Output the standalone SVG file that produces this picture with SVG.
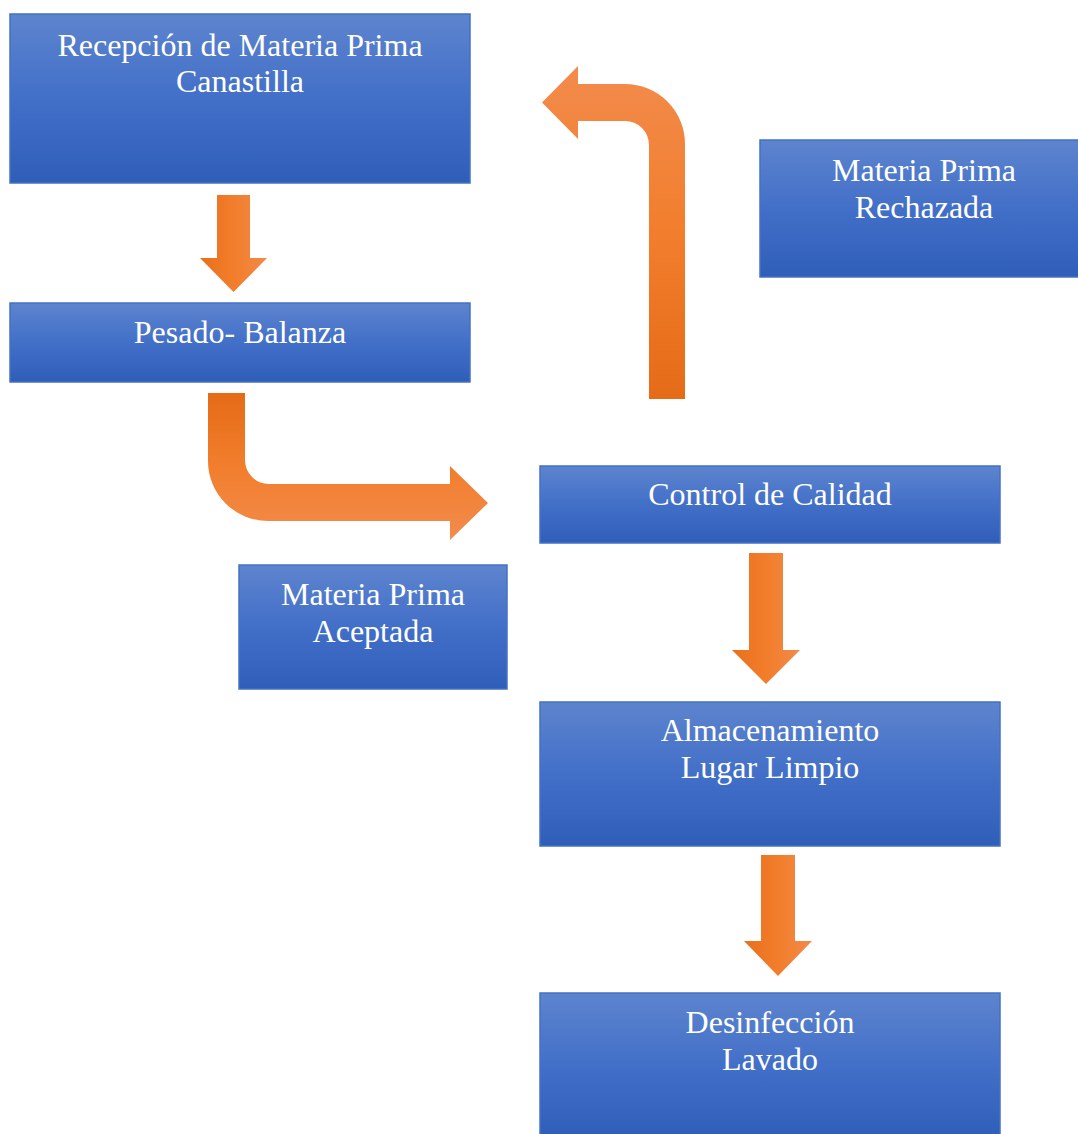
<svg xmlns="http://www.w3.org/2000/svg" width="1078" height="1134" viewBox="0 0 1078 1134">
<defs>
<linearGradient id="boxg" x1="0" y1="0" x2="0" y2="1">
<stop offset="0" stop-color="#5D84CE"/>
<stop offset="0.5" stop-color="#426FC8"/>
<stop offset="1" stop-color="#2F5EB9"/>
</linearGradient>
<linearGradient id="downg" x1="0" y1="0" x2="1" y2="0">
<stop offset="0" stop-color="#E8701D"/>
<stop offset="0.5" stop-color="#F27D2B"/>
<stop offset="1" stop-color="#F28A48"/>
</linearGradient>
<linearGradient id="bend1" gradientUnits="userSpaceOnUse" x1="0" y1="393" x2="0" y2="540">
<stop offset="0" stop-color="#E56B17"/>
<stop offset="0.5" stop-color="#F27E2D"/>
<stop offset="1" stop-color="#F28B4C"/>
</linearGradient>
<linearGradient id="bend2" gradientUnits="userSpaceOnUse" x1="0" y1="66" x2="0" y2="399">
<stop offset="0" stop-color="#F28B4C"/>
<stop offset="0.5" stop-color="#F27E2D"/>
<stop offset="1" stop-color="#E56B17"/>
</linearGradient>
</defs>
<style>
.box{fill:url(#boxg);stroke:#4472C4;stroke-width:1.5}
.t{font-family:"Liberation Serif","Times New Roman",serif;font-size:32px;fill:#FFFFFF;text-anchor:middle}
.down{fill:url(#downg)}
</style>
<rect width="1078" height="1134" fill="#FFFFFF"/>
<g id="connectors">
<path class="down" d="M217,195 H250 V258 H267 L233.5,292 L200,258 H217 Z"/>
<path fill="url(#bend1)" d="M208,393 H245 V460 A24,24 0 0 0 269,484 H450 V466 L488,503 L450,540 V521 H268 A60,60 0 0 1 208,461 Z"/>
<path fill="url(#bend2)" d="M649,399 V145 A24,24 0 0 0 625,121 H578 V139 L542,102.5 L578,66 V84 H625 A60,60 0 0 1 685,144 V399 Z"/>
<path class="down" d="M749,553 H783 V650 H800 L766,684 L732,650 H749 Z"/>
<path class="down" d="M761,855 H795 V941 H812 L778,976 L744,941 H761 Z"/>
</g>
<g id="recepcion">
<rect class="box" x="10" y="14" width="460" height="169"/>
<text class="t" x="240" y="56">Recepción de Materia Prima</text>
<text class="t" x="240" y="92">Canastilla</text>
</g>
<g id="rechazada">
<rect class="box" x="760" y="140" width="329" height="137"/>
<text class="t" x="924" y="181">Materia Prima</text>
<text class="t" x="924" y="218">Rechazada</text>
</g>
<g id="pesado">
<rect class="box" x="10" y="303" width="460" height="79"/>
<text class="t" x="240" y="343">Pesado- Balanza</text>
</g>
<g id="control">
<rect class="box" x="540" y="466" width="460" height="77"/>
<text class="t" x="770" y="505">Control de Calidad</text>
</g>
<g id="aceptada">
<rect class="box" x="239" y="565" width="268" height="124"/>
<text class="t" x="373" y="605">Materia Prima</text>
<text class="t" x="373" y="642">Aceptada</text>
</g>
<g id="almacenamiento">
<rect class="box" x="540" y="702" width="460" height="144"/>
<text class="t" x="770" y="741">Almacenamiento</text>
<text class="t" x="770" y="778">Lugar Limpio</text>
</g>
<g id="desinfeccion">
<rect class="box" x="540" y="993" width="460" height="145"/>
<text class="t" x="770" y="1033">Desinfección</text>
<text class="t" x="770" y="1070">Lavado</text>
</g>
</svg>
